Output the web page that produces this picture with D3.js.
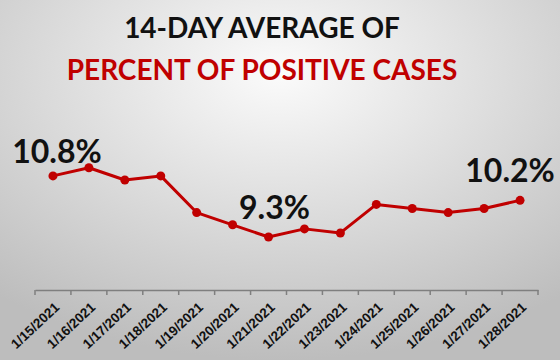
<!DOCTYPE html>
<html lang="en">
<head>
  <meta charset="UTF-8">
  <title>14-Day Average of Percent of Positive Cases</title>
  <style>
    body { margin: 0; padding: 0; }
    svg { display: block; font-family: Lato, "Open Sans", sans-serif; }
  </style>
  <script src="https://d3js.org/d3.v7.min.js"></script>
</head>
<body>
  <svg width="560" height="360"></svg>
  <script>
    // data
    const dates = ["1/15/2021", "1/16/2021", "1/17/2021", "1/18/2021", "1/19/2021",
                   "1/20/2021", "1/21/2021", "1/22/2021", "1/23/2021", "1/24/2021",
                   "1/25/2021", "1/26/2021", "1/27/2021", "1/28/2021"];
    const percents = [10.8, 11.0, 10.7, 10.8, 9.9, 9.6, 9.3, 9.5, 9.4, 10.1, 10.0, 9.9, 10.0, 10.2];
    const labelled = ["1/15/2021", "1/21/2021", "1/28/2021"];
    const titleLines = ["14-DAY AVERAGE OF", "PERCENT OF POSITIVE CASES"];

    const red = "#c00000";
    const svg = d3.select("svg");
    const width = +svg.attr("width");
    const height = +svg.attr("height");

    // background gradient
    const defs = svg.append("defs");
    const grad = defs.append("radialGradient")
      .attr("id", "bg").attr("cx", "50%").attr("cy", "20%").attr("r", "80%");
    grad.append("stop").attr("offset", "0%").attr("stop-color", "#fbfbfb");
    grad.append("stop").attr("offset", "100%").attr("stop-color", "#bdbdbd");
    svg.append("rect").attr("width", width).attr("height", height).attr("fill", "url(#bg)");

    // title
    svg.append("g").selectAll("text")
      .data(titleLines)
      .join("text")
      .attr("x", 262)
      .attr("y", (d, i) => 38 + i * 42)
      .attr("text-anchor", "middle")
      .attr("font-size", 28)
      .attr("font-weight", "bold")
      .attr("fill", (d, i) => i === 0 ? "#111" : red)
      .text(d => d);

    // scales
    const x = d3.scaleBand().domain(dates).range([35, 538]);
    const y = d3.scaleLinear().domain([8, 12]).range([290, 127]);
    const cx = d => x(d) + x.bandwidth() / 2;

    // x axis
    const axis = svg.append("g")
      .attr("transform", "translate(0,290)")
      .call(d3.axisBottom(x).tickSizeOuter(0).tickSizeInner(0).tickFormat(""));
    axis.select(".domain").attr("stroke", "#7f7f7f").attr("stroke-width", 1.5);
    axis.selectAll(".tick").remove();

    // tick marks at band boundaries
    const bounds = dates.map(d => x(d)).concat([x.range()[1]]);
    axis.selectAll("line.sep")
      .data(bounds)
      .join("line")
      .attr("class", "sep")
      .attr("x1", d => d).attr("x2", d => d)
      .attr("y1", 0).attr("y2", 5)
      .attr("stroke", "#7f7f7f").attr("stroke-width", 1.5);

    // rotated date labels
    axis.selectAll("text.lbl")
      .data(dates)
      .join("text")
      .attr("class", "lbl")
      .attr("transform", d => `translate(${cx(d) + 4},${15}) rotate(-43)`)
      .attr("text-anchor", "end")
      .attr("dy", "0.35em")
      .attr("font-size", 13.5)
      .attr("font-weight", "bold")
      .attr("fill", "#111")
      .text(d => d);

    // line
    const line = d3.line().x((d, i) => cx(dates[i])).y(d => y(d));
    svg.append("path")
      .datum(percents)
      .attr("d", line)
      .attr("fill", "none")
      .attr("stroke", red)
      .attr("stroke-width", 3)
      .attr("stroke-linejoin", "round");

    svg.append("g").selectAll("circle")
      .data(percents)
      .join("circle")
      .attr("cx", (d, i) => cx(dates[i]))
      .attr("cy", d => y(d))
      .attr("r", 4.5)
      .attr("fill", red);

    // value labels
    const labelData = dates.map((d, i) => ({ date: d, v: percents[i] }))
      .filter(d => labelled.includes(d.date));
    svg.append("g").selectAll("text")
      .data(labelData)
      .join("text")
      .attr("x", (d, i) => cx(d.date) + [4, 6, -10][i])
      .attr("y", (d, i) => y(d.v) - [13, 18, 18][i])
      .attr("text-anchor", "middle")
      .attr("font-size", 32)
      .attr("font-weight", "bold")
      .attr("fill", "#111")
      .text(d => d.v.toFixed(1) + "%");
  </script>
</body>
</html>
